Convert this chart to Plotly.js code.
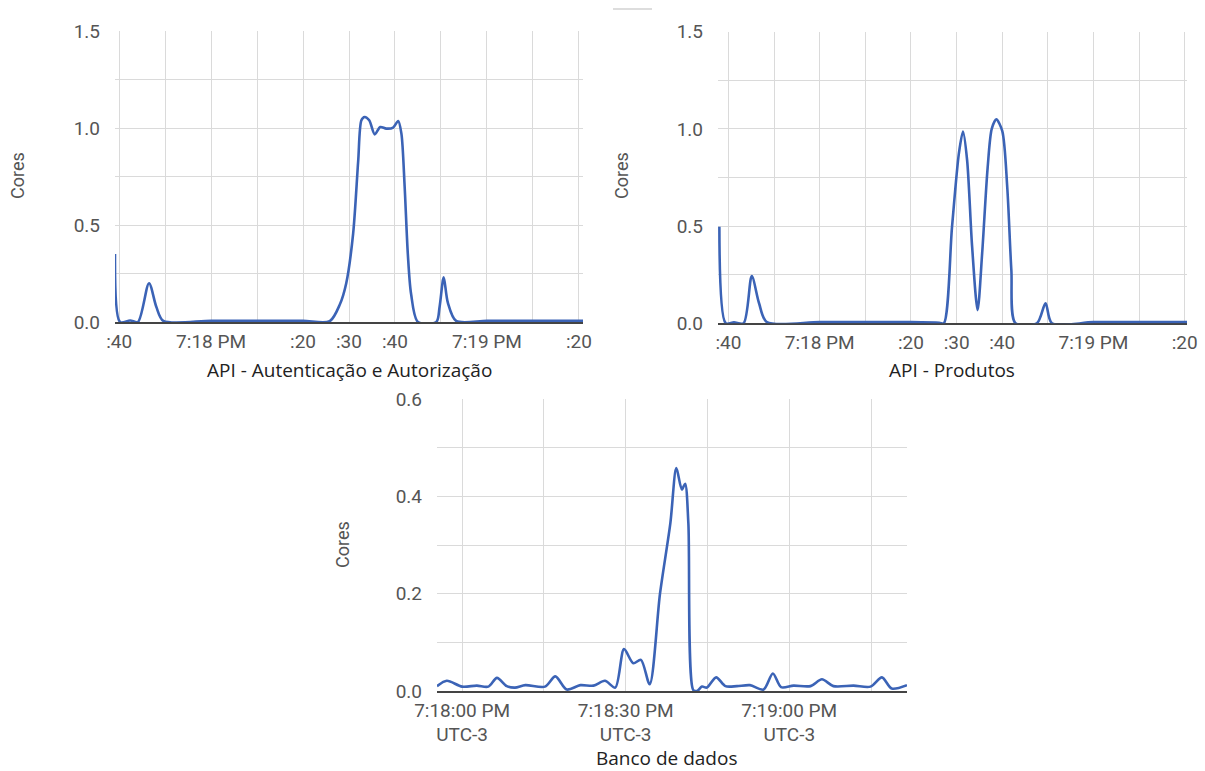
<!DOCTYPE html>
<html>
<head>
<meta charset="utf-8">
<script src="https://cdn.plot.ly/plotly-3.0.1.min.js"></script>
<style>
  html, body { margin: 0; padding: 0; background: #ffffff; }
  #chart { width: 1205px; height: 771px; }
</style>
</head>
<body>
<div id="chart"></div>
<script>
// ---- Data (seconds relative to 7:18:00 PM UTC-3, value in cores) ----
const authTimes = [-20.9, -19.8, -17.6, -15.9, -13.5, -11.9, -10.4, 0, 10, 20, 25.8, 28.0, 29.4, 30.9, 32.0, 32.7, 33.4, 34.4, 35.6, 36.8, 38.1, 39.6, 40.7, 41.4, 42.1, 42.8, 43.5, 45.0, 49.0, 49.7, 50.6, 51.5, 53.3, 60, 70, 80.9];
const authCores = [0.35, 0, 0.008, 0, 0.20, 0.077, 0.006, 0.006, 0.006, 0.006, 0.004, 0.09, 0.2, 0.456, 0.83, 1.04, 1.057, 1.04, 0.967, 1.005, 0.997, 1.002, 1.036, 0.971, 0.70, 0.35, 0.146, 0, 0, 0.077, 0.23, 0.10, 0.006, 0.006, 0.006, 0.006];

const prodTimes = [-22.0, -20.6, -18.8, -16.7, -14.9, -13.3, -11.6, 0, 10, 20, 26.2, 27.2, 29.0, 30.5, 31.4, 32.3, 33.4, 34.6, 35.6, 36.8, 37.7, 38.7, 40.0, 41.1, 42.0, 42.9, 47.6, 49.5, 50.9, 60, 70, 80.5];
const prodCores = [0.497, 0, 0.005, 0, 0.243, 0.103, 0.006, 0.006, 0.006, 0.006, 0.003, 0, 0.497, 0.874, 0.986, 0.84, 0.394, 0.068, 0.36, 0.80, 1.0, 1.049, 0.99, 0.70, 0.274, 0, 0, 0.103, 0, 0.006, 0.006, 0.006];

const dbTimes = [-4.6, -2.8, 0, 2.7, 4.8, 6.4, 8.2, 9.7, 11.6, 15.2, 17.1, 19.2, 21.7, 24.1, 26.2, 28.1, 29.7, 31.4, 32.8, 34.4, 36.3, 38.2, 39.3, 40.3, 40.9, 41.5, 42.4, 43.1, 44.0, 44.9, 46.6, 48.3, 50.4, 52.8, 55.3, 57.0, 58.5, 60.8, 63.9, 66.0, 68.1, 71.8, 74.9, 77.0, 78.8, 81.6];
const dbCores = [0.010, 0.021, 0.009, 0.011, 0.009, 0.027, 0.010, 0.007, 0.012, 0.009, 0.030, 0.003, 0.012, 0.011, 0.021, 0.007, 0.086, 0.057, 0.064, 0.014, 0.20, 0.345, 0.458, 0.414, 0.426, 0.345, 0.002, 0, 0.009, 0.007, 0.028, 0.010, 0.010, 0.012, 0.003, 0.036, 0.008, 0.011, 0.010, 0.024, 0.010, 0.011, 0.009, 0.028, 0.005, 0.012];

// ---- Tick labels ----
const apiTickVals = [-20, -10, 0, 10, 20, 30, 40, 50, 60, 70, 80];
const apiTickText = [':40', '', '7:18 PM', '', ':20', ':30', ':40', '', '7:19 PM', '', ':20'];
const apiYVals = [0, 0.25, 0.5, 0.75, 1.0, 1.25, 1.5];
const apiYText = ['0.0', '', '0.5', '', '1.0', '', '1.5'];

const dbTickVals = [0, 15, 30, 45, 60, 75];
const dbTickText = ['7:18:00 PM<br>UTC-3', '', '7:18:30 PM<br>UTC-3', '', '7:19:00 PM<br>UTC-3', ''];
const dbYVals = [0, 0.1, 0.2, 0.3, 0.4, 0.5, 0.6];
const dbYText = ['0.0', '', '0.2', '', '0.4', '', '0.6'];

const panelTitles = ['API - Autenticação e Autorização', 'API - Produtos', 'Banco de dados'];
const yTitle = 'Cores';

// ---- Styling ----
const lineColor = '#3b63b6';
const gridColor = '#dadada';
const tickFont = { family: 'Roboto, Arial, sans-serif', size: 19, color: '#555555' };
const titleFont = { family: '"Open Sans", "Noto Sans", sans-serif', size: 19, color: '#222222' };
const yTitleFont = { family: 'Roboto, Arial, sans-serif', size: 18, color: '#555555' };
const W = 1205, H = 771;
const px = v => v / W;
const py = v => (H - v) / H;

function trace(x, y, xa, ya) {
  return {
    x: x, y: y, xaxis: xa, yaxis: ya, type: 'scatter', mode: 'lines',
    line: { color: lineColor, width: 2.6, shape: 'spline', smoothing: 0.8 },
    hoverinfo: 'x+y', showlegend: false
  };
}

function xAxis(domain, range, vals, text, anchor) {
  return {
    domain: domain, range: range, anchor: anchor,
    tickmode: 'array', tickvals: vals, ticktext: text,
    showgrid: true, gridcolor: gridColor, gridwidth: 1,
    zeroline: false, showline: true, linecolor: '#444444', linewidth: 1.5,
    layer: 'below traces', ticks: '', tickfont: tickFont, ticklabelstandoff: 1,
    fixedrange: true
  };
}
function yAxis(domain, range, vals, text, anchor) {
  return {
    domain: domain, range: range, anchor: anchor,
    tickmode: 'array', tickvals: vals, ticktext: text,
    showgrid: true, gridcolor: gridColor, gridwidth: 1,
    zeroline: false, showline: false, ticks: '', tickfont: tickFont,
    ticklabelstandoff: 14, fixedrange: true
  };
}

const data = [
  trace(authTimes, authCores, 'x', 'y'),
  trace(prodTimes, prodCores, 'x2', 'y2'),
  trace(dbTimes, dbCores, 'x3', 'y3')
];

function yLabel(x, y) {
  return { text: yTitle, x: px(x), y: py(y), xref: 'paper', yref: 'paper', textangle: -90,
    showarrow: false, xanchor: 'center', yanchor: 'middle', font: yTitleFont };
}
function panelLabel(text, x, y) {
  return { text: text, x: px(x), y: py(y), xref: 'paper', yref: 'paper',
    showarrow: false, xanchor: 'center', yanchor: 'middle', font: titleFont };
}

const layout = {
  width: W, height: H,
  margin: { l: 0, r: 0, t: 0, b: 0 },
  paper_bgcolor: '#ffffff', plot_bgcolor: '#ffffff',
  xaxis: xAxis([px(115), px(583)], [-20.9, 80.9], apiTickVals, apiTickText, 'y'),
  yaxis: yAxis([py(322), py(31)], [0, 1.5], apiYVals, apiYText, 'x'),
  xaxis2: xAxis([px(718), px(1187)], [-22.3, 80.5], apiTickVals, apiTickText, 'y2'),
  yaxis2: yAxis([py(323.3), py(31.7)], [0, 1.5], apiYVals, apiYText, 'x2'),
  xaxis3: xAxis([px(437), px(907)], [-4.6, 81.6], dbTickVals, dbTickText, 'y3'),
  yaxis3: yAxis([py(691), py(399)], [0, 0.6], dbYVals, dbYText, 'x3'),
  annotations: [
    yLabel(18, 176), yLabel(622, 176), yLabel(342, 545),
    panelLabel(panelTitles[0], 349, 370),
    panelLabel(panelTitles[1], 952, 370),
    panelLabel(panelTitles[2], 666, 758)
  ],
  shapes: [
    { type: 'line', xref: 'paper', yref: 'paper', x0: px(613), x1: px(652), y0: py(9), y1: py(9),
      line: { color: '#bbbbbb', width: 1 } }
  ]
};

Plotly.newPlot('chart', data, layout, { displayModeBar: false });
</script>
</body>
</html>
